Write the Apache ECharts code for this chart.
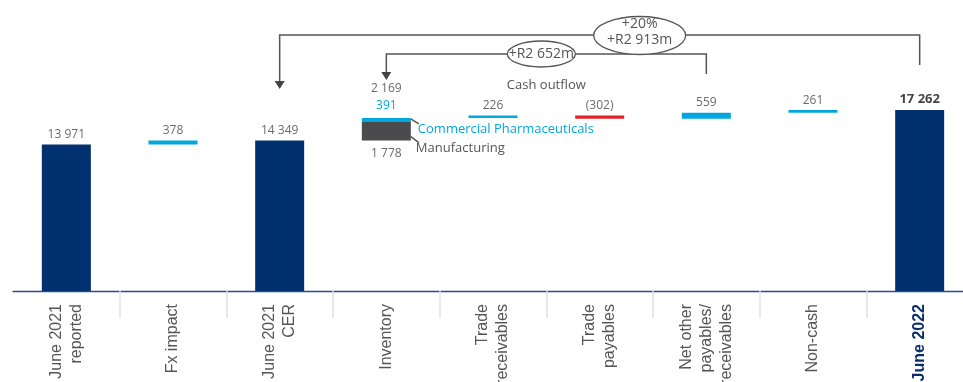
<!DOCTYPE html>
<html><head><meta charset="utf-8">
<script src="https://cdn.jsdelivr.net/npm/echarts@6/dist/echarts.min.js"></script>
<style>html,body{margin:0;padding:0;background:#fff;overflow:hidden}#c{width:963px;height:382px}</style>
</head><body><div id="c"></div>
<script>
// ---- data ----
const categories = ['June 2021\nreported','Fx impact','June 2021\nCER','Inventory','Trade\nreceivables','Trade\npayables','Net other\npayables/\nreceivables','Non-cash','June 2022'];
const totalValues = [13971, null, 14349, null, null, null, null, null, 17262];
const changeValues = [null, 378, null, 2169, 226, -302, 559, 261, null];
const inventoryManufacturing = 1778;
const inventoryCommercial = 391;
const inventoryIndex = 3;
const bracketBig = ['+20%', '+R2 913m'];
const bracketSmall = '+R2 652m';
const titleText = "Working capital change, (R'm)";

// ---- derived stacks ----
const fmt = v => String(Math.abs(v)).replace(/\B(?=(\d{3})+(?!\d))/g, ' ');
let running = 0;
const base = [], totals = [], incr = [], decr = [], manu = [], comm = [];
categories.forEach((c, i) => {
  base.push('-'); totals.push('-'); incr.push('-'); decr.push('-'); manu.push('-'); comm.push('-');
  if (totalValues[i] != null) { running = totalValues[i]; totals[i] = totalValues[i]; base[i] = 0; return; }
  const v = changeValues[i];
  if (i === inventoryIndex) { base[i] = running; manu[i] = inventoryManufacturing; comm[i] = inventoryCommercial; running += v; return; }
  if (v >= 0) { base[i] = running; incr[i] = v; running += v; }
  else { running += v; base[i] = running; decr[i] = -v; }
});
totals[8] = { value: totals[8], label: { fontWeight: 'bold', color: '#444', fontSize: 13 } };

const LBL = { show: true, position: 'top', distance: 4, fontFamily: 'Open Sans', fontSize: 12, color: '#6a6a6a' };
const chart = echarts.init(document.getElementById('c'));
chart.setOption({
  animation: false,
  grid: { left: 13, right: -10, top: 29, bottom: 91, containLabel: false, outerBoundsMode: 'none' },
  xAxis: {
    type: 'category', data: categories,
    axisLine: { lineStyle: { color: '#2a4c8c', width: 1.3 } },
    axisTick: { show: true, length: 27, interval: (i) => i !== 0, lineStyle: { color: '#e2e2e2', width: 1.5 } },
    axisLabel: {
      interval: 0, rotate: 90, margin: 13, fontSize: 16, lineHeight: 20,
      fontFamily: 'Liberation Sans', color: '#555',
      formatter: (v, i) => i === 8 ? '{b|' + v + '}' : v,
      rich: { b: { fontWeight: 'bold', color: '#0b2d6b', fontSize: 16, fontFamily: 'Liberation Sans' } }
    }
  },
  yAxis: { type: 'value', min: 0, max: 25000, show: false, splitLine: { show: false } },
  series: [
    { name: 'base', type: 'bar', stack: 'w', barWidth: 49, data: base, itemStyle: { color: 'transparent' }, silent: true },
    { name: 'total', type: 'bar', stack: 'w', data: totals, itemStyle: { color: '#00306e' }, label: { ...LBL, formatter: p => fmt(p.value) } },
    { name: 'Manufacturing', type: 'bar', stack: 'w', data: manu, itemStyle: { color: '#4b4b4d' },
      label: { ...LBL, position: 'bottom', distance: 7, formatter: p => fmt(p.value) } },
    { name: 'Commercial Pharmaceuticals', type: 'bar', stack: 'w', data: comm, itemStyle: { color: '#00a8de' },
      label: { ...LBL, distance: 4, formatter: () => '{a|' + fmt(changeValues[inventoryIndex]) + '}\n{b|' + fmt(inventoryCommercial) + '}',
        rich: { a: { fontFamily: 'Open Sans', fontSize: 12, color: '#6a6a6a', lineHeight: 17 }, b: { fontFamily: 'Open Sans', fontSize: 12, color: '#00a8de', lineHeight: 17 } } } },
    { name: 'increase', type: 'bar', stack: 'w', data: incr, itemStyle: { color: '#00a8de' }, label: { ...LBL, formatter: p => fmt(p.value) } },
    { name: 'decrease', type: 'bar', stack: 'w', data: decr, itemStyle: { color: '#e3202a' }, label: { ...LBL, formatter: p => '(' + fmt(p.value) + ')' } }
  ]
});

// ---- annotations ----
const px = i => chart.convertToPixel({ xAxisIndex: 0 }, i);
const py = v => chart.convertToPixel({ yAxisIndex: 0 }, v);
const LC = '#555';
const line = (pts) => ({ type: 'polyline', shape: { points: pts }, style: { stroke: LC, lineWidth: 1.5, fill: null }, z: 10 });
const arrow = (x, y) => ({ type: 'polygon', shape: { points: [[x - 5, y - 8], [x + 5, y - 8], [x, y]] }, style: { fill: '#444' }, z: 10 });
const txt = (t, x, y, color, size, align) => ({ type: 'text', x, y, style: { text: t, fill: color || '#555', font: (size || 13) + 'px "Open Sans"', textAlign: align || 'center', textVerticalAlign: 'middle' }, z: 12 });

const x2 = px(2), x3 = px(3), x6 = px(6), x8 = px(8), x5 = px(5);
const yBig = 35, ySmall = 54;
const invTop = py(totalValues[2] + changeValues[inventoryIndex]);
const manuBot = py(totalValues[2]);
const barR = x3 + 24.5;
const cxBig = x5 + 40, cxSmall = (x3 + x6) / 2 - 5;

chart.setOption({
  graphic: [
    { type: 'text', x: 55, y: -3, style: { text: titleText, fill: '#555', font: 'bold 20px "Open Sans"', textVerticalAlign: 'bottom' } },
    line([[x2, 81], [x2, yBig], [x8, yBig], [x8, 65]]),
    arrow(x2, 89),
    { type: 'ellipse', shape: { cx: cxBig, cy: yBig + 0.5, rx: 46, ry: 19 }, style: { fill: '#fff', stroke: LC, lineWidth: 1.3 }, z: 11 },
    txt(bracketBig[0], cxBig, 24, '#555', 14),
    txt(bracketBig[1], cxBig, 40, '#555', 14),
    line([[x3, 72], [x3, ySmall], [x6, ySmall], [x6, 74]]),
    arrow(x3, 80),
    { type: 'ellipse', shape: { cx: cxSmall, cy: ySmall, rx: 34, ry: 13 }, style: { fill: '#fff', stroke: LC, lineWidth: 1.3 }, z: 11 },
    txt(bracketSmall, cxSmall, ySmall, '#555', 14),
    txt('Cash outflow', cxSmall + 5, 85, '#555', 13),
    line([[barR, invTop + 1], [barR + 8, invTop + 6]]),
    txt('Commercial Pharmaceuticals', barR + 7, invTop + 11, '#00a8de', 13, 'left'),
    line([[barR, manuBot - 4], [barR + 8, manuBot + 2]]),
    txt('Manufacturing', barR + 5, manuBot + 8, '#555', 13, 'left')
  ]
});
</script></body></html>
